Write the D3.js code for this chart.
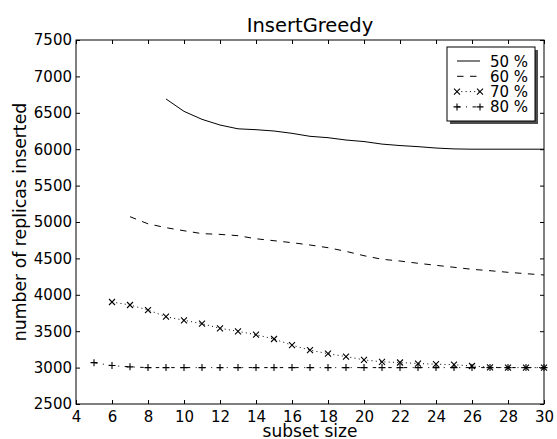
<!DOCTYPE html>
<html>
<head>
<meta charset="utf-8">
<script src="https://cdn.jsdelivr.net/npm/d3@7"></script>
<style>
  body { margin: 0; background: #fff; }
  text { font-family: "DejaVu Sans", sans-serif; fill: #000; }
</style>
</head>
<body>
<svg id="chart" width="557" height="439"></svg>
<script>
// data
const sizes50 = [9, 10, 11, 12, 13, 14, 15, 16, 17, 18, 19, 20, 21, 22, 23, 24, 25, 26, 27, 28, 29, 30];
const vals50 = [6690, 6520, 6410, 6332, 6280, 6268, 6250, 6218, 6177, 6158, 6126, 6105, 6070, 6050, 6035, 6016, 6004, 6000, 6000, 6000, 6000, 6000];

const sizes60 = [7, 8, 9, 10, 11, 12, 13, 14, 15, 16, 17, 18, 19, 20, 21, 22, 23, 24, 25, 26, 27, 28, 29, 30];
const vals60 = [5073, 4975, 4922, 4880, 4840, 4830, 4812, 4770, 4743, 4716, 4684, 4647, 4597, 4537, 4488, 4464, 4433, 4405, 4378, 4350, 4331, 4309, 4290, 4272];

const sizes70 = [6, 7, 8, 9, 10, 11, 12, 13, 14, 15, 16, 17, 18, 19, 20, 21, 22, 23, 24, 25, 26, 27, 28, 29, 30];
const vals70 = [3901, 3860, 3791, 3699, 3650, 3603, 3540, 3498, 3452, 3393, 3308, 3240, 3191, 3152, 3106, 3079, 3070, 3056, 3047, 3040, 3022, 3004, 3000, 3000, 3000];

const sizes80 = [5, 6, 7, 8, 9, 10, 11, 12, 13, 14, 15, 16, 17, 18, 19, 20, 21, 22, 23, 24, 25, 26, 27, 28, 29, 30];
const vals80 = [3068, 3028, 3010, 3000, 3000, 3000, 3000, 3000, 3000, 3000, 3000, 3000, 3000, 3000, 3000, 3000, 3000, 3000, 3000, 3000, 3000, 3000, 3000, 3000, 3000, 3000];

const labels = ["50 %", "60 %", "70 %", "80 %"];
const xTicks = [4, 6, 8, 10, 12, 14, 16, 18, 20, 22, 24, 26, 28, 30];
const yTicks = [2500, 3000, 3500, 4000, 4500, 5000, 5500, 6000, 6500, 7000, 7500];

const series = [
  { name: labels[0], xs: sizes50, ys: vals50, dash: null, marker: null },
  { name: labels[1], xs: sizes60, ys: vals60, dash: "6.5,6.5", marker: null },
  { name: labels[2], xs: sizes70, ys: vals70, dash: "1,3.3", marker: "x" },
  { name: labels[3], xs: sizes80, ys: vals80, dash: "3.5,5.5,1,5.5", marker: "+" }
];

const margin = { left: 76, top: 40, right: 13, bottom: 35 };
const width = 557 - margin.left - margin.right;
const height = 439 - margin.top - margin.bottom;

const svg = d3.select("#chart")
  .append("g")
  .attr("transform", `translate(${margin.left}, ${margin.top})`);

const x = d3.scaleLinear().domain([4, 30]).range([0, width]);
const y = d3.scaleLinear().domain([2500, 7500]).range([height, 0]);

// draw a marker at (cx, cy)
const drawMarker = (g, type, cx, cy) => {
  const r = type === "x" ? 3 : 3.5;
  const p = type === "x"
    ? `M${cx - r},${cy - r}L${cx + r},${cy + r}M${cx - r},${cy + r}L${cx + r},${cy - r}`
    : `M${cx - r},${cy}L${cx + r},${cy}M${cx},${cy - r}L${cx},${cy + r}`;
  g.append("path").attr("d", p).attr("stroke", "#000").attr("stroke-width", 1.1).attr("fill", "none");
};

const line = d3.line().x((d) => x(d[0])).y((d) => y(d[1]));

series.forEach((s) => {
  const pts = s.xs.map((v, i) => [v, s.ys[i]]);
  svg.append("path")
    .datum(pts)
    .attr("d", line)
    .attr("fill", "none")
    .attr("stroke", "#000")
    .attr("stroke-width", 1)
    .attr("stroke-dasharray", s.dash);
  if (s.marker) {
    const mg = svg.append("g");
    pts.forEach((p) => drawMarker(mg, s.marker, x(p[0]), y(p[1])));
  }
});

// axes: ticks inside on all four sides
const axisStyle = (g) => {
  g.select(".domain").remove();
  g.selectAll(".tick line").attr("stroke", "#000");
  g.selectAll(".tick text").style("font-size", "15px").style("font-family", "DejaVu Sans");
};

svg.append("g")
  .attr("transform", `translate(0, ${height})`)
  .call(d3.axisBottom(x).tickValues(xTicks).tickSizeInner(-4).tickPadding(7.5).tickFormat(d3.format("d")))
  .call(axisStyle);
svg.append("g")
  .call(d3.axisTop(x).tickValues(xTicks).tickSizeInner(-4).tickFormat(""))
  .call(axisStyle);
svg.append("g")
  .call(d3.axisLeft(y).tickValues(yTicks).tickSizeInner(-4).tickPadding(4).tickFormat(d3.format("d")))
  .call(axisStyle);
svg.append("g")
  .attr("transform", `translate(${width}, 0)`)
  .call(d3.axisRight(y).tickValues(yTicks).tickSizeInner(-4).tickFormat(""))
  .call(axisStyle);

svg.append("rect")
  .attr("width", width)
  .attr("height", height)
  .attr("fill", "none")
  .attr("stroke", "#000")
  .attr("stroke-width", 1);

// title and axis labels
svg.append("text")
  .attr("x", width / 2)
  .attr("y", -8)
  .attr("text-anchor", "middle")
  .style("font-size", "19.5px")
  .text("InsertGreedy");

svg.append("text")
  .attr("x", width / 2)
  .attr("y", height + 32.5)
  .attr("text-anchor", "middle")
  .style("font-size", "17px")
  .text("subset size");

svg.append("text")
  .attr("transform", `translate(${-50}, ${height / 2}) rotate(-90)`)
  .attr("text-anchor", "middle")
  .style("font-size", "17.3px")
  .text("number of replicas inserted");

// legend with shadow
const lg = svg.append("g").attr("transform", `translate(${447 - margin.left}, ${47 - margin.top})`);
lg.append("rect").attr("x", 3).attr("y", 3).attr("width", 88).attr("height", 74).attr("fill", "#4d4d4d");
lg.append("rect").attr("width", 88).attr("height", 74).attr("fill", "#fff").attr("stroke", "#000").attr("stroke-width", 1);

series.forEach((s, i) => {
  const ly = 14 + i * 15.3;
  lg.append("line")
    .attr("x1", 10).attr("x2", 33)
    .attr("y1", ly).attr("y2", ly)
    .attr("stroke", "#000")
    .attr("stroke-width", 1)
    .attr("stroke-dasharray", s.dash);
  if (s.marker) {
    drawMarker(lg, s.marker, 10, ly);
    drawMarker(lg, s.marker, 33, ly);
  }
  lg.append("text")
    .attr("x", 43)
    .attr("y", ly + 5.5)
    .style("font-size", "15px")
    .text(s.name);
});
</script>
</body>
</html>
